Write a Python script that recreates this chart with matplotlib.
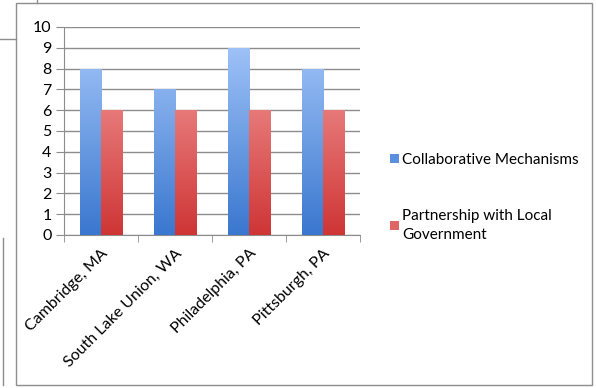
import matplotlib.pyplot as plt
import numpy as np
from matplotlib.colors import LinearSegmentedColormap
from matplotlib.patches import Rectangle, Patch
from matplotlib.lines import Line2D

plt.rcParams['font.family'] = ['Lato', 'DejaVu Sans']

cities = ['Cambridge, MA', 'South Lake Union, WA', 'Philadelphia, PA', 'Pittsburgh, PA']
collab = [8, 7, 9, 8]
partner = [6, 6, 6, 6]
series_names = ['Collaborative Mechanisms', 'Partnership with Local\nGovernment']

blue_top, blue_bot = '#A9CAFB', '#3A77CF'
red_top, red_bot = '#F7A6A6', '#CF3535'

fig = plt.figure(figsize=(5.96, 3.88), dpi=100)
ax = fig.add_axes([64 / 596, 1 - 235 / 388, 296 / 596, 208 / 388])

x = np.arange(len(cities))
w = 0.29
bars1 = ax.bar(x - w / 2, collab, w, color='none', zorder=3)
bars2 = ax.bar(x + w / 2, partner, w, color='none', zorder=3)


def grad_fill(bars, top, bot):
    cmap = LinearSegmentedColormap.from_list('g', [bot, top])
    grad = np.linspace(0, 1, 256).reshape(-1, 1)
    for b in bars:
        x0 = b.get_x()
        im = ax.imshow(grad, cmap=cmap, aspect='auto', origin='lower',
                       extent=[x0, x0 + b.get_width(), 0, 10], zorder=3)
        im.set_clip_path(b)


grad_fill(bars1, blue_top, blue_bot)
grad_fill(bars2, red_top, red_bot)

ax.set_xlim(-0.5, 3.5)
ax.set_ylim(0, 10)
ax.set_yticks(range(11))
ax.yaxis.grid(True, color='#8C8C8C', lw=1)
ax.set_axisbelow(True)
for s in ['top', 'right']:
    ax.spines[s].set_visible(False)
ax.spines['left'].set_color('#8C8C8C')
ax.spines['bottom'].set_color('#8C8C8C')
ax.tick_params(axis='y', length=6, color='#8C8C8C', labelsize=11.5, pad=3)
ax.set_xticks(x)
ax.set_xticklabels(cities, rotation=45, ha='right', va='top',
                   rotation_mode='anchor', fontsize=11.5)
ax.tick_params(axis='x', length=0, pad=8)
ax.set_xticks(np.arange(-0.5, 4, 1), minor=True)
ax.tick_params(axis='x', which='minor', length=5, color='#8C8C8C')

handles = [Patch(facecolor='#5C8FE0'), Patch(facecolor='#E06666')]
leg = fig.legend(handles, series_names, loc='upper left',
                 bbox_to_anchor=(376 / 596, 1 - 139 / 388), frameon=False,
                 fontsize=11, handlelength=0.6, handleheight=0.6,
                 handletextpad=0.2, labelspacing=2.75)
for t in leg.get_texts():
    t.set_linespacing(1.5)

fig.patches.append(Rectangle((16 / 596, 3 / 388), 576 / 596, 382 / 388,
                             transform=fig.transFigure, fill=False,
                             edgecolor='#8E8E8E', lw=1))
fig.lines.append(Line2D([37 / 596, 37 / 596], [1, 1 - 3 / 388],
                        transform=fig.transFigure, color='#8E8E8E', lw=1))
fig.lines.append(Line2D([0, 16 / 596], [1 - 39 / 388, 1 - 39 / 388],
                        transform=fig.transFigure, color='#8E8E8E', lw=1))
fig.lines.append(Line2D([3 / 596, 3 / 596], [1 - 238 / 388, 3 / 388],
                        transform=fig.transFigure, color='#8E8E8E', lw=1))

plt.savefig('out.png')
